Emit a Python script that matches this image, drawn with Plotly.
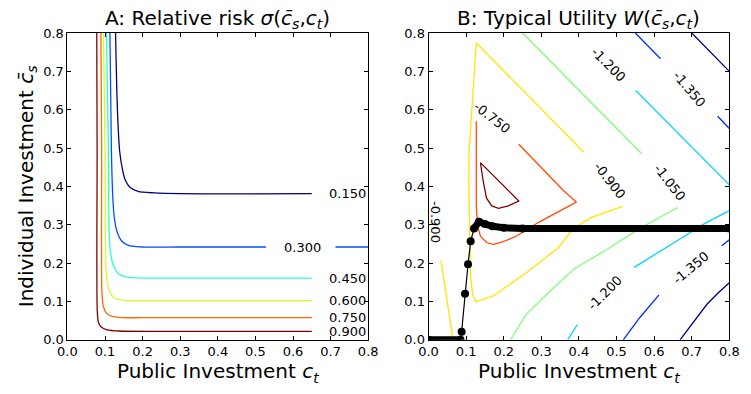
import plotly.graph_objects as go

# ---------------- Panel A: relative risk contours ----------------
a_levels = [0.15, 0.30, 0.45, 0.60, 0.75, 0.90]
a_colors = ["#000080", "#004dff", "#29ffce", "#ceff29", "#ff6800", "#800000"]

a_x_015 = [0.128, 0.133, 0.139, 0.147, 0.154, 0.167, 0.188, 0.231, 0.30, 0.65]
a_y_015 = [0.800, 0.600, 0.491, 0.441, 0.416, 0.397, 0.387, 0.383, 0.381, 0.381]

a_x_030 = [0.113, 0.117, 0.121, 0.125, 0.132, 0.145, 0.162, 0.197, 0.30, 0.528, None, 0.713, 0.80]
a_y_030 = [0.800, 0.491, 0.366, 0.316, 0.282, 0.257, 0.246, 0.242, 0.242, 0.242, None, 0.242, 0.242]

a_x_045 = [0.104, 0.109, 0.111, 0.115, 0.124, 0.137, 0.162, 0.25, 0.65]
a_y_045 = [0.800, 0.491, 0.282, 0.224, 0.190, 0.171, 0.163, 0.161, 0.161]

a_x_060 = [0.096, 0.100, 0.102, 0.106, 0.115, 0.128, 0.154, 0.25, 0.65]
a_y_060 = [0.800, 0.491, 0.199, 0.149, 0.120, 0.107, 0.103, 0.102, 0.102]

a_x_075 = [0.089, 0.091, 0.0915, 0.095, 0.104, 0.119, 0.145, 0.25, 0.65]
a_y_075 = [0.800, 0.491, 0.132, 0.090, 0.069, 0.061, 0.058, 0.058, 0.058]

a_x_090 = [0.078, 0.079, 0.0795, 0.083, 0.0915, 0.106, 0.137, 0.25, 0.65]
a_y_090 = [0.800, 0.491, 0.073, 0.044, 0.032, 0.026, 0.023, 0.022, 0.022]

a_xs = [a_x_015, a_x_030, a_x_045, a_x_060, a_x_075, a_x_090]
a_ys = [a_y_015, a_y_030, a_y_045, a_y_060, a_y_075, a_y_090]

# label anchors (data coords) for panel A
a_lab_x = [0.745, 0.624, 0.745, 0.745, 0.745, 0.745]
a_lab_y = [0.381, 0.242, 0.161, 0.102, 0.058, 0.021]

# ---------------- Panel B: typical utility contours ----------------
b_levels = [-1.50, -1.35, -1.20, -1.05, -0.90, -0.75, -0.60]
b_colors = ["#000080", "#002aff", "#00d4ff", "#7dff7a", "#ffe600", "#ff4a00", "#800000"]

b_x_150 = [0.70, 0.80, None, 0.669, 0.705, 0.740, 0.770, 0.80]
b_y_150 = [0.80, 0.70, None, 0.000, 0.048, 0.092, 0.122, 0.149]

b_x_135 = [0.55, 0.617, None, 0.769, 0.80, None, 0.78, 0.80, None, 0.518, 0.561, 0.613]
b_y_135 = [0.80, 0.733, None, 0.583, 0.551, None, 0.245, 0.261, None, 0.000, 0.057, 0.117]

b_x_120 = [0.551, 0.80, None, 0.37, 0.396, None, 0.547, 0.60, 0.674, 0.734, 0.80]
b_y_120 = [0.650, 0.404, None, 0.00, 0.040, None, 0.189, 0.222, 0.266, 0.303, 0.337]

b_x_105 = [0.25, 0.567, None, 0.218, 0.259, 0.328, 0.389, 0.475, 0.561, 0.663]
b_y_105 = [0.80, 0.485, None, 0.000, 0.065, 0.132, 0.186, 0.236, 0.290, 0.345]

b_x_090 = [0.413, 0.127, 0.108, 0.107, 0.110, 0.112, 0.117, 0.125, 0.138, 0.173, 0.259, 0.345,
           0.385, 0.430, 0.516, None, 0.033, 0.065]
b_y_090 = [0.489, 0.774, 0.495, 0.416, 0.250, 0.165, 0.120, 0.100, 0.103, 0.115, 0.174, 0.240,
           0.290, 0.318, 0.348, None, 0.207, 0.000]

b_x_075 = [0.127, 0.127, 0.127, 0.130, 0.138, 0.155, 0.173, 0.199, 0.233, 0.294, 0.393, 0.358, 0.24]
b_y_075 = [0.570, 0.450, 0.349, 0.299, 0.270, 0.253, 0.249, 0.256, 0.270, 0.307, 0.359, 0.390, 0.51]

b_x_060 = [0.138, 0.145, 0.154, 0.168, 0.186, 0.212, 0.240, 0.138]
b_y_060 = [0.462, 0.416, 0.370, 0.349, 0.343, 0.349, 0.362, 0.462]

b_xs = [b_x_150, b_x_135, b_x_120, b_x_105, b_x_090, b_x_075, b_x_060]
b_ys = [b_y_150, b_y_135, b_y_120, b_y_105, b_y_090, b_y_075, b_y_060]

# label anchors for panel B: (level index, x, y, angle)
b_lab_level = [1, 2, 3, 4, 5, 4, 2, 1]
b_lab_x = [0.694, 0.479, 0.642, 0.482, 0.168, 0.020, 0.470, 0.699]
b_lab_y = [0.652, 0.719, 0.411, 0.416, 0.579, 0.307, 0.123, 0.188]
b_lab_ang = [50, 45, 52, 52, 38, 90, -45, -40]

# optimal individual investment vs public investment
policy_x = [0.0, 0.085, 0.088, 0.097, 0.105, 0.112, 0.121, 0.134, 0.150, 0.170, 0.200, 0.250, 0.80]
policy_y = [0.0, 0.000, 0.021, 0.120, 0.197, 0.257, 0.290, 0.308, 0.302, 0.296, 0.292, 0.290, 0.29]
dense_x = [0.0, 0.085, None, 0.121, 0.134, 0.150, 0.170, 0.200, 0.250, 0.80]
dense_y = [0.0, 0.000, None, 0.290, 0.308, 0.302, 0.296, 0.292, 0.290, 0.29]

tick_vals = [0.0, 0.1, 0.2, 0.3, 0.4, 0.5, 0.6, 0.7, 0.8]
tick_text = ["0.0", "0.1", "0.2", "0.3", "0.4", "0.5", "0.6", "0.7", "0.8"]

FONT = "DejaVu Sans"
W, H = 751, 394
fig = go.Figure()

for xs, ys, c in zip(a_xs, a_ys, a_colors):
    fig.add_trace(go.Scatter(x=xs, y=ys, mode="lines",
                             line=dict(color=c, width=1.3, shape="spline", smoothing=0.8),
                             xaxis="x", yaxis="y", hoverinfo="skip", showlegend=False))
for xs, ys, c in zip(b_xs, b_ys, b_colors):
    fig.add_trace(go.Scatter(x=xs, y=ys, mode="lines", line=dict(color=c, width=1.3),
                             xaxis="x2", yaxis="y2", hoverinfo="skip", showlegend=False))

fig.add_trace(go.Scatter(x=dense_x, y=dense_y, mode="lines", line=dict(color="black", width=7),
                         xaxis="x2", yaxis="y2", showlegend=False, hoverinfo="skip"))
fig.add_trace(go.Scatter(x=policy_x, y=policy_y, mode="lines+markers",
                         line=dict(color="black", width=1.2),
                         marker=dict(color="black", size=8),
                         xaxis="x2", yaxis="y2", showlegend=False, hoverinfo="skip",
                         cliponaxis=True))

annotations = []
for lvl, lx, ly in zip(a_levels, a_lab_x, a_lab_y):
    annotations.append(dict(x=lx, y=ly, xref="x", yref="y", text=f"{lvl:.3f}", showarrow=False,
                            xanchor="center", yanchor="middle",
                            font=dict(family=FONT, size=13, color="black")))
for li, lx, ly, ang in zip(b_lab_level, b_lab_x, b_lab_y, b_lab_ang):
    annotations.append(dict(x=lx, y=ly, xref="x2", yref="y2", text=f"{b_levels[li]:.3f}",
                            showarrow=False, textangle=ang, xanchor="center", yanchor="middle",
                            font=dict(family=FONT, size=13, color="black")))

xd1 = [59 / W, 368 / W]
xd2 = [430 / W, 739 / W]
yd = [(H - 346) / H, (H - 27) / H]
title_y = (H - 12) / H

annotations.append(dict(x=sum(xd1) / 2, y=title_y, xref="paper", yref="paper",
                        xanchor="center", yanchor="middle", showarrow=False,
                        text="A: Relative risk <i>σ</i>(<i>c̄</i><sub><i>s</i></sub>,<i>c</i><sub><i>t</i></sub>)",
                        font=dict(family=FONT, size=20, color="black")))
annotations.append(dict(x=sum(xd2) / 2, y=title_y, xref="paper", yref="paper",
                        xanchor="center", yanchor="middle", showarrow=False,
                        text="B: Typical Utility <i>W</i>(<i>c̄</i><sub><i>s</i></sub>,<i>c</i><sub><i>t</i></sub>)",
                        font=dict(family=FONT, size=20, color="black")))

axis_common = dict(range=[0, 0.8], tickvals=tick_vals, ticktext=tick_text, ticks="inside",
                   ticklen=4, tickcolor="black", showline=True, linecolor="black", linewidth=1,
                   mirror="ticks", showgrid=False, zeroline=False,
                   tickfont=dict(family=FONT, size=13, color="black"))

fig.update_layout(
    width=W, height=H, margin=dict(l=0, r=0, t=0, b=0),
    paper_bgcolor="white", plot_bgcolor="white",
    font=dict(family=FONT, color="black"),
    xaxis=dict(domain=xd1, anchor="y", **axis_common,
               title=dict(text="Public Investment <i>c</i><sub><i>t</i></sub>",
                          font=dict(family=FONT, size=20), standoff=2)),
    yaxis=dict(domain=yd, anchor="x", **axis_common,
               title=dict(text="Individual Investment <i>c̄</i><sub><i>s</i></sub>",
                          font=dict(family=FONT, size=20), standoff=4)),
    xaxis2=dict(domain=xd2, anchor="y2", **axis_common,
                title=dict(text="Public Investment <i>c</i><sub><i>t</i></sub>",
                           font=dict(family=FONT, size=20), standoff=2)),
    yaxis2=dict(domain=yd, anchor="x2", **axis_common),
    annotations=annotations,
)

fig.write_html("out.html")
